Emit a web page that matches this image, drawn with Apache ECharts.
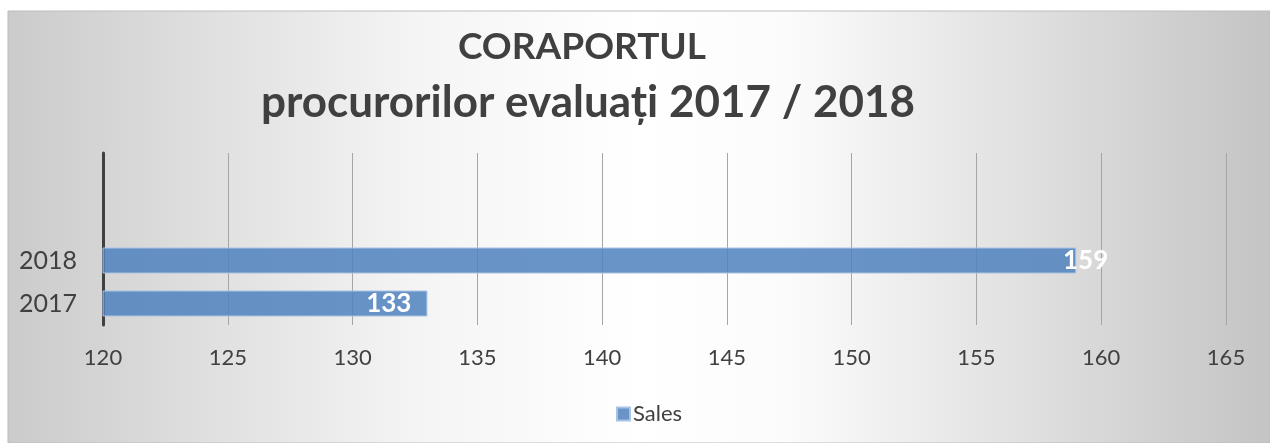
<!DOCTYPE html>
<html>
<head>
<meta charset="utf-8">
<script src="https://cdn.jsdelivr.net/npm/echarts@6/dist/echarts.min.js"></script>
<style>
html,body{margin:0;padding:0;background:#fff;}
#chart{width:1270px;height:443px;}
</style>
</head>
<body>
<div id="chart"></div>
<script>
const titleLine1 = 'CORAPORTUL';
const titleLine2 = 'procurorilor evaluați 2017 / 2018';
const categories = ['2017', '2018', '', ''];
const salesValues = [133, 159, null, null];
const seriesName = 'Sales';
const xTicks = { min: 120, max: 165, interval: 5 };

const FONT = 'Lato, "Open Sans", sans-serif';
const TXT = '#404040';

const chart = echarts.init(document.getElementById('chart'), null, { renderer: 'canvas' });

const labelOffsets = salesValues.map((v, i) => (i === 1 ? [48, 0] : [0, 0]));

chart.setOption({
  animation: false,
  graphic: [{
    type: 'rect',
    z: -10,
    silent: true,
    shape: { x: 8, y: 11, width: 1262, height: 432 },
    style: {
      fill: new echarts.graphic.LinearGradient(0, 0, 1, 0, [
        { offset: 0, color: '#cbcbcb' },
        { offset: 0.32, color: '#f4f4f4' },
        { offset: 0.5, color: '#ffffff' },
        { offset: 0.62, color: '#fbfbfb' },
        { offset: 1, color: '#c4c4c4' }
      ]),
      stroke: '#bdbdbd',
      lineWidth: 1
    }
  }],
  title: [
    {
      text: titleLine1,
      left: 577, top: 24, textAlign: 'center',
      textStyle: { fontFamily: FONT, fontWeight: 'bold', fontSize: 37, color: TXT }
    },
    {
      text: titleLine2,
      left: 583, top: 76, textAlign: 'center',
      textStyle: { fontFamily: FONT, fontWeight: 'bold', fontSize: 44, color: TXT }
    }
  ],
  legend: {
    data: [seriesName],
    left: 611, top: 398,
    itemWidth: 13, itemHeight: 13, itemGap: 4,
    icon: 'rect',
    textStyle: { fontFamily: FONT, fontSize: 22, color: TXT, padding: [0, 0, 0, -2] }
  },
  grid: { left: 103, right: 44, top: 153, bottom: 118, containLabel: false },
  xAxis: {
    type: 'value',
    min: xTicks.min, max: xTicks.max, interval: xTicks.interval,
    axisLine: { show: false },
    axisTick: { show: false },
    axisLabel: { fontFamily: FONT, fontSize: 22, color: TXT, margin: 22 },
    splitLine: { show: true, lineStyle: { color: '#a6a6a6', width: 1 } }
  },
  yAxis: {
    type: 'category',
    data: categories,
    axisLine: { show: true, lineStyle: { color: '#404040', width: 3 } },
    axisTick: { show: false },
    axisLabel: { fontFamily: FONT, fontSize: 25, color: TXT, margin: 26 },
    splitLine: { show: false }
  },
  series: [{
    name: seriesName,
    type: 'bar',
    barWidth: 26,
    data: salesValues.map((v, i) => ({ value: v, label: { offset: labelOffsets[i] } })),
    itemStyle: { color: 'rgba(79,129,189,0.85)', borderColor: '#a9c3e4', borderWidth: 1 },
    label: {
      show: true,
      position: 'insideRight',
      distance: 16,
      fontFamily: FONT,
      fontWeight: 'bold',
      fontSize: 26,
      color: '#ffffff'
    }
  }]
});
</script>
</body>
</html>
